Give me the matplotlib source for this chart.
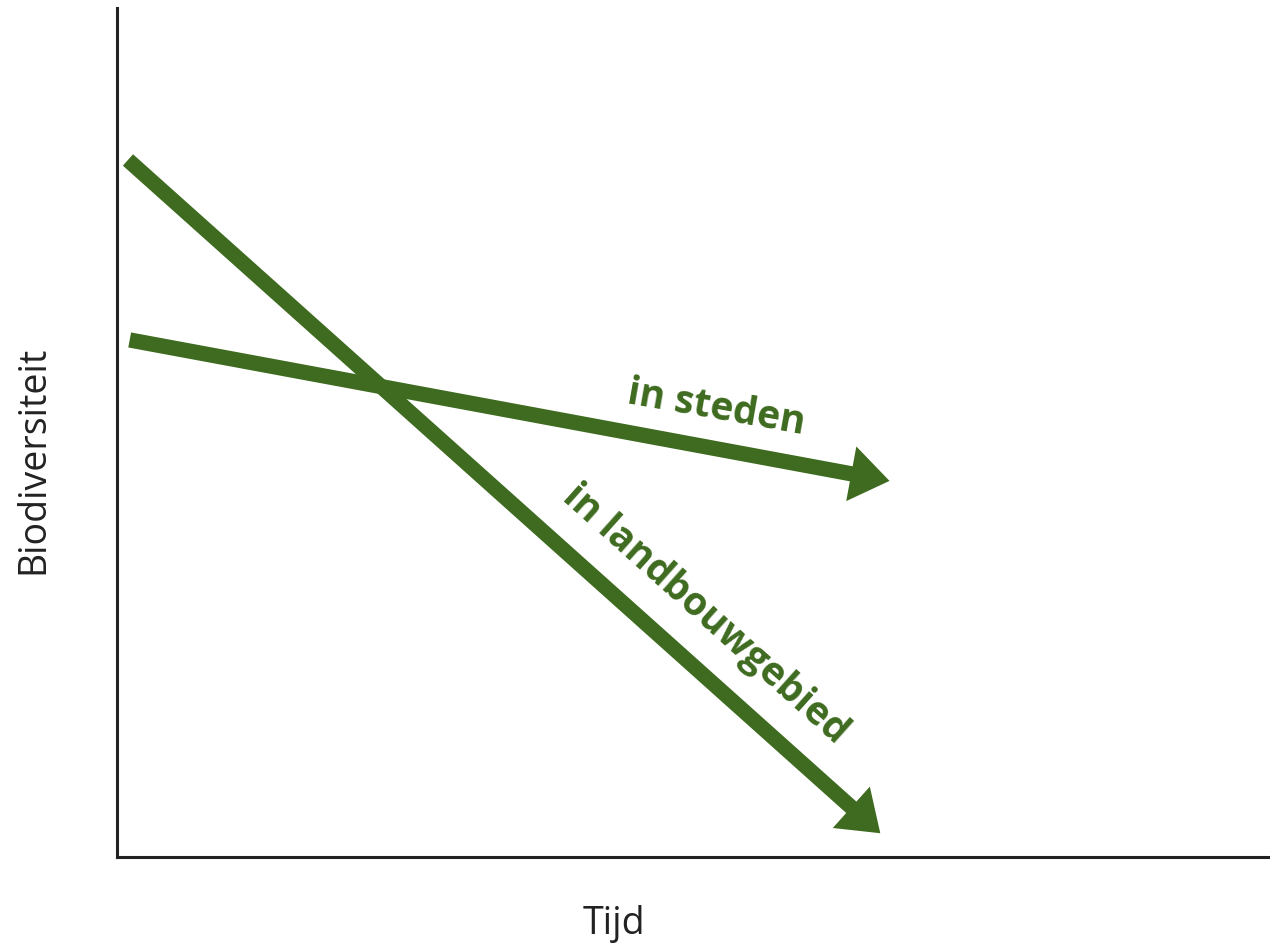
import matplotlib
matplotlib.use("Agg")
import matplotlib.pyplot as plt
from matplotlib.patches import FancyArrowPatch

# line start / end (arrow tip) in axis units (0-100)
steden_x = [1.1, 67.0]
steden_y = [60.9, 44.3]
landbouw_x = [0.95, 66.2]
landbouw_y = [82.1, 2.8]

green = "#3e6b1f"

fig = plt.figure(figsize=(12.7, 9.48), dpi=100)
ax = fig.add_axes([117 / 1270, 91 / 948, 1153 / 1270, 849 / 948])
ax.set_xlim(0, 100)
ax.set_ylim(0, 100)

for xs, ys in [(steden_x, steden_y), (landbouw_x, landbouw_y)]:
    arr = FancyArrowPatch(
        (xs[0], ys[0]), (xs[1], ys[1]),
        arrowstyle="simple,head_length=28,head_width=40,tail_width=11",
        mutation_scale=1, color=green, lw=0, shrinkA=0, shrinkB=0,
    )
    ax.add_patch(arr)

ax.text(52.0, 52.8, "in steden", color=green, fontsize=28, fontweight="bold",
        family="Open Sans", rotation=-10.0, ha="center", va="center",
        rotation_mode="anchor")
ax.text(51.0, 28.6, "in landbouwgebied", color=green, fontsize=28,
        fontweight="bold", family="Open Sans", rotation=-41.8,
        ha="center", va="center", rotation_mode="anchor")

for s in ["top", "right"]:
    ax.spines[s].set_visible(False)
for s in ["left", "bottom"]:
    ax.spines[s].set_linewidth(2.2)
    ax.spines[s].set_color("#222222")
ax.set_xticks([])
ax.set_yticks([])

fig.text(33 / 1270, 1 - 460 / 948, "Biodiversiteit", rotation=90, fontsize=27,
         family="Open Sans", color="#222222", ha="center", va="center")
fig.text(614 / 1270, 1 - 924 / 948, "Tijd", fontsize=27, family="Open Sans",
         color="#222222", ha="center", va="center")

fig.savefig("out.png", dpi=100)
